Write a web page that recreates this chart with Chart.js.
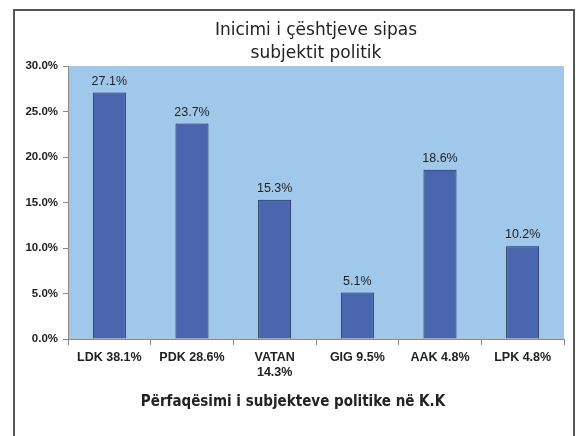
<!DOCTYPE html>
<html>
<head>
<meta charset="utf-8">
<script src="https://cdn.jsdelivr.net/npm/chart.js@4"></script>
<style>
  body { margin: 0; background: #fff; }
  #wrap { position: relative; width: 576px; height: 436px; overflow: hidden; }
  #frame { position: absolute; left: 13px; top: 9px; width: 558px; height: 500px; border: 2px solid #555; pointer-events: none; }
  canvas { position: absolute; left: 0; top: 0; }
</style>
</head>
<body>
<div id="wrap">
  <canvas id="chart" width="576" height="436"></canvas>
  <div id="frame"></div>
</div>
<script>
// data
const parties = [
  "LDK 38.1%",
  "PDK 28.6%",
  ["VATAN", "14.3%"],
  "GIG 9.5%",
  "AAK 4.8%",
  "LPK 4.8%",
];
const initiated = [27.1, 23.7, 15.3, 5.1, 18.6, 10.2];

// colors
const barFill = "#4a66ae";
const barEdge = "#1c2450";
const plotBg = "#a0c8ea";
const axisGray = "#8a8a8a";
const textDark = "#222";

// light blue plot area + thin edge
const plotBackground = {
  id: "plotBackground",
  beforeDraw(chart) {
    const { ctx, chartArea: a } = chart;
    ctx.save();
    ctx.fillStyle = plotBg;
    ctx.fillRect(a.left, a.top, a.right - a.left, a.bottom - a.top);
    ctx.strokeStyle = "#b8c4cc";
    ctx.lineWidth = 1;
    ctx.strokeRect(a.left + 0.5, a.top + 0.5, a.right - a.left - 1, a.bottom - a.top - 1);
    ctx.restore();
  },
};

// value labels above each bar
const barLabels = {
  id: "barLabels",
  afterDatasetsDraw(chart) {
    const { ctx } = chart;
    const meta = chart.getDatasetMeta(0);
    ctx.save();
    ctx.font = "12.5px 'Liberation Sans', Arial, sans-serif";
    ctx.fillStyle = textDark;
    ctx.textAlign = "center";
    ctx.textBaseline = "bottom";
    meta.data.forEach((bar, i) => {
      ctx.fillText(initiated[i].toFixed(1) + "%", bar.x, bar.y - 5);
    });
    ctx.restore();
  },
};

// x axis title, centred on the frame
const frameTitle = {
  id: "frameTitle",
  afterDraw(chart) {
    const { ctx } = chart;
    ctx.save();
    ctx.font = "bold 15px 'DejaVu Sans Condensed', 'DejaVu Sans', sans-serif";
    ctx.fillStyle = textDark;
    ctx.textAlign = "center";
    ctx.textBaseline = "middle";
    ctx.fillText("Përfaqësimi i subjekteve politike në K.K", 293, 402);
    ctx.restore();
  },
};

const chart = new Chart(document.getElementById("chart"), {
  type: "bar",
  data: {
    labels: parties,
    datasets: [
      {
        label: "Inicimi",
        data: initiated,
        backgroundColor: barFill,
        borderColor: barEdge,
        borderWidth: 1,
        barPercentage: 0.4,
        categoryPercentage: 1,
      },
    ],
  },
  options: {
    responsive: false,
    animation: false,
    layout: {
      padding: { left: 0, right: 12, top: 0, bottom: 0 },
    },
    scales: {
      x: {
        grid: {
          drawOnChartArea: false,
          drawTicks: true,
          tickLength: 6,
          color: axisGray,
          offset: true,
        },
        border: { color: axisGray, width: 1 },
        ticks: {
          color: textDark,
          padding: 5,
          maxRotation: 0,
          autoSkip: false,
          font: { family: "'Liberation Sans', Arial, sans-serif", size: 12.5, weight: "bold", lineHeight: 1.2 },
        },
        afterFit(scale) {
          scale.height = 97;
        },
      },
      y: {
        min: 0,
        max: 30,
        grid: {
          drawOnChartArea: false,
          drawTicks: true,
          tickLength: 5,
          color: axisGray,
        },
        border: { color: axisGray, width: 1 },
        ticks: {
          stepSize: 5,
          color: textDark,
          padding: 5,
          font: { family: "'Liberation Sans', Arial, sans-serif", size: 11.5, weight: "bold" },
          callback: (v) => v.toFixed(1) + "%",
        },
        afterFit(scale) {
          scale.width = 68;
        },
      },
    },
    plugins: {
      legend: { display: false },
      tooltip: { enabled: false },
      title: {
        display: true,
        fullSize: false,
        text: ["Inicimi i çështjeve sipas", "subjektit politik"],
        color: textDark,
        font: { family: "'DejaVu Sans', sans-serif", size: 17, weight: "normal", lineHeight: 1.3 },
        padding: { top: 20, bottom: 2 },
      },
    },
  },
  plugins: [plotBackground, barLabels, frameTitle],
});
</script>
</body>
</html>
